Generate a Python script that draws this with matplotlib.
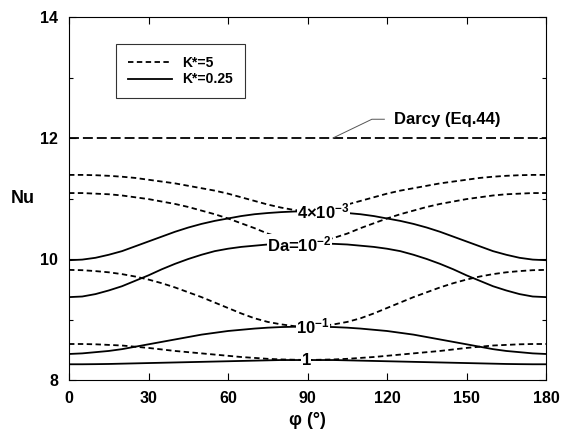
import numpy as np
import matplotlib
matplotlib.use("Agg")
import matplotlib.pyplot as plt
from matplotlib.ticker import MultipleLocator

plt.rcParams['font.family'] = ['Liberation Sans', 'DejaVu Sans']
plt.rcParams['font.weight'] = 'bold'
plt.rcParams['mathtext.fontset'] = 'custom'
plt.rcParams['mathtext.rm'] = 'Liberation Sans:bold'
plt.rcParams['mathtext.bf'] = 'Liberation Sans:bold'
plt.rcParams['mathtext.default'] = 'bf'

# half of each curve (0..90 deg); curves are symmetric about 90 deg
phi_half = [0, 5, 10, 15, 20, 25, 30, 35, 40, 45, 50, 55, 60, 65, 70, 75, 80, 85, 90]

# K* = 5 (dashed)
k5_da4e3_half = [11.39, 11.39, 11.385, 11.375, 11.36, 11.34, 11.31, 11.28, 11.25, 11.21,
                 11.17, 11.13, 11.08, 11.02, 10.96, 10.90, 10.85, 10.81, 10.79]
k5_da1e2_half = [11.09, 11.09, 11.08, 11.07, 11.05, 11.02, 10.99, 10.95, 10.91, 10.86,
                 10.80, 10.74, 10.67, 10.59, 10.51, 10.42, 10.35, 10.29, 10.27]
k5_da1e1_half = [9.82, 9.815, 9.80, 9.78, 9.75, 9.71, 9.66, 9.60, 9.53, 9.45,
                 9.37, 9.28, 9.19, 9.10, 9.02, 8.96, 8.92, 8.89, 8.88]
k5_da1_half = [8.595, 8.595, 8.59, 8.58, 8.57, 8.55, 8.53, 8.505, 8.48, 8.46,
               8.44, 8.42, 8.40, 8.38, 8.365, 8.35, 8.34, 8.335, 8.33]

# K* = 0.25 (solid)
k025_da4e3_half = [9.98, 9.99, 10.02, 10.07, 10.13, 10.21, 10.29, 10.37, 10.45, 10.52,
                   10.58, 10.63, 10.67, 10.71, 10.74, 10.76, 10.775, 10.785, 10.79]
k025_da1e2_half = [9.37, 9.38, 9.42, 9.48, 9.55, 9.64, 9.73, 9.83, 9.92, 10.00,
                   10.07, 10.13, 10.17, 10.20, 10.22, 10.24, 10.25, 10.26, 10.26]
k025_da1e1_half = [8.43, 8.44, 8.46, 8.48, 8.51, 8.55, 8.59, 8.63, 8.67, 8.71,
                   8.75, 8.78, 8.81, 8.83, 8.85, 8.865, 8.875, 8.88, 8.88]
k025_da1_half = [8.26, 8.26, 8.262, 8.265, 8.27, 8.275, 8.28, 8.285, 8.29, 8.295,
                 8.30, 8.305, 8.31, 8.315, 8.32, 8.325, 8.33, 8.33, 8.33]

darcy_nu = 12.0


def full_phi(h):
    return h + [180 - p for p in h[-2::-1]]


def full_vals(h):
    return h + h[-2::-1]


phi = full_phi(phi_half)

fig = plt.figure(figsize=(5.67, 4.34), dpi=100)
ax = fig.add_axes([69/567, 1-380/434, 477/567, 363/434])

dash_style = (0, (3.0, 1.9))
lw = 1.3
for h in (k5_da4e3_half, k5_da1e2_half, k5_da1e1_half, k5_da1_half):
    ax.plot(phi, full_vals(h), color='black', lw=lw, linestyle=dash_style)
for h in (k025_da4e3_half, k025_da1e2_half, k025_da1e1_half, k025_da1_half):
    ax.plot(phi, full_vals(h), color='black', lw=lw, linestyle='-')

ax.plot([0, 180], [darcy_nu, darcy_nu], color='black', lw=1.3, linestyle=(0, (5.5, 2.2)))

h1, = ax.plot([], [], color='black', lw=lw, linestyle=dash_style, label='K*=5')
h2, = ax.plot([], [], color='black', lw=lw, linestyle='-', label='K*=0.25')
leg = ax.legend(handles=[h1, h2], loc='upper left', bbox_to_anchor=(0.0985, 0.926),
                frameon=True, fancybox=False, edgecolor='black',
                prop={'size': 10, 'weight': 'bold'},
                handlelength=3.2, borderpad=0.85, labelspacing=0.2, handletextpad=0.7,
                borderaxespad=0)
leg.get_frame().set_linewidth(0.8)

bb = dict(facecolor='white', edgecolor='none', pad=0.3)
fs_lab = 12
ax.text(96, 10.79, r'4$\times$10$^{-3}$', ha='center', va='center', fontsize=fs_lab,
        fontweight='bold', bbox=bb)
ax.text(87, 10.24, r'Da=10$^{-2}$', ha='center', va='center', fontsize=fs_lab,
        fontweight='bold', bbox=bb)
ax.text(92, 8.89, r'10$^{-1}$', ha='center', va='center', fontsize=fs_lab,
        fontweight='bold', bbox=bb)
ax.text(89.5, 8.33, '1', ha='center', va='center', fontsize=fs_lab,
        fontweight='bold', bbox=bb)

ax.plot([99.6, 114.3, 119.0], [12.0, 12.31, 12.31], color='#555555', lw=0.7)
ax.text(122.6, 12.30, 'Darcy (Eq.44)', ha='left', va='center', fontsize=12,
        fontweight='bold')

ax.set_xlim(0, 180)
ax.set_ylim(8, 14)
ax.set_xticks([0, 30, 60, 90, 120, 150, 180])
ax.set_yticks([8, 10, 12, 14])
ax.yaxis.set_minor_locator(MultipleLocator(1))
ax.tick_params(which='both', direction='in', top=True, right=True, labelsize=11.5, width=0.8)
ax.tick_params(which='major', length=5, pad=8)
ax.tick_params(which='minor', length=3)
for lab in ax.get_xticklabels() + ax.get_yticklabels():
    lab.set_fontweight('bold')
for s in ax.spines.values():
    s.set_linewidth(0.8)

ax.set_ylabel('Nu', fontsize=13, fontweight='bold', rotation=0, labelpad=12, va='center')
ax.set_xlabel('φ (°)', fontsize=13, fontweight='bold', labelpad=4)

fig.savefig('out.png', dpi=100)
